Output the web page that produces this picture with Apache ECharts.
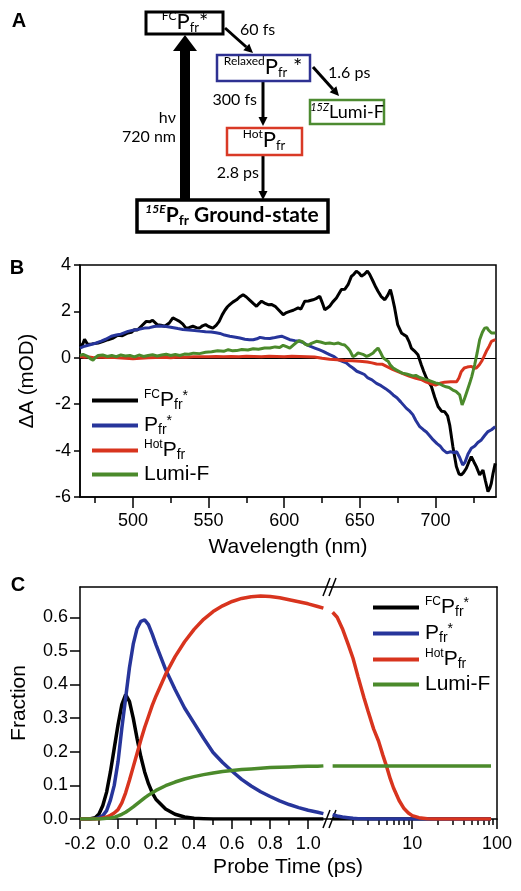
<!DOCTYPE html>
<html><head><meta charset="utf-8">
<script src="https://cdn.jsdelivr.net/npm/echarts@6/dist/echarts.min.js"></script>
<style>html,body{margin:0;padding:0;background:#fff}#c{width:521px;height:891px}</style>
</head><body><div id="c"></div>
<script>
// ---------- Panel B: transient spectra (wavelength nm, ΔA mOD) ----------
const fcSpectrum = [[465,0.47],[467,0.62],[468,0.8],[470,0.58],[473,0.6],[477,0.64],[480,0.7],[483.5,0.78],[487,0.85],[490,0.97],[493,0.95],[496.7,1.07],[499,1.1],[501,1.21],[503,1.2],[505.5,1.36],[508.8,1.57],[511,1.55],[513,1.62],[516,1.43],[518.5,1.4],[521,1.36],[524,1.5],[526.4,1.72],[528.5,1.65],[530.8,1.57],[533,1.45],[535,1.28],[537,1.3],[539.6,1.36],[542,1.3],[544,1.28],[546,1.38],[548,1.43],[550,1.35],[552.8,1.28],[555,1.4],[557,1.57],[559,1.85],[560.8,2.05],[562.5,2.2],[564,2.29],[566,2.4],[568.5,2.5],[570.5,2.62],[572.8,2.72],[575,2.62],[577,2.5],[579.5,2.35],[581.7,2.22],[583.5,2.35],[585,2.44],[587,2.36],[589.4,2.29],[591.5,2.3],[594,2.22],[596.5,2.05],[599.3,1.86],[601.5,1.95],[603.7,2.0],[606,2.05],[609.2,2.15],[611,2.1],[613.6,2.44],[616,2.45],[619,2.5],[621,2.55],[623.5,2.65],[625,2.4],[626.8,2.07],[628.5,2.15],[630,2.22],[632,2.4],[634.5,2.58],[637.8,2.94],[640,2.95],[642.2,3.15],[644.4,3.51],[646,3.6],[647.7,3.73],[649.5,3.65],[651,3.52],[653,3.6],[655,3.74],[656.5,3.6],[658.7,3.3],[660.5,3.05],[662,2.87],[664,2.65],[666.5,2.5],[668.5,2.7],[670.2,2.94],[671.5,2.6],[673,2.15],[675,1.43],[677.5,1.07],[679,1.0],[680.8,0.93],[682.5,0.7],[684,0.42],[686,0.3],[688.4,0.13],[690.6,-0.3],[692,-0.55],[694,-0.87],[697.3,-1.24],[699.5,-1.7],[701.7,-2.1],[704,-2.3],[706,-2.32],[708,-2.5],[709.4,-2.9],[711.5,-3.83],[713.8,-4.69],[715.5,-5.0],[717,-5.05],[718.5,-4.95],[720.4,-4.76],[722,-4.5],[723.7,-4.26],[725.5,-4.5],[727,-4.69],[729.2,-5.05],[731.4,-4.84],[733,-5.3],[734.7,-5.77],[736,-5.6],[736.9,-5.41],[738,-5.0],[739.5,-4.55]];
const pfrSpectrum = [[465,0.42],[468,0.5],[471,0.55],[475.8,0.64],[479,0.72],[482,0.8],[485.7,0.93],[489,0.98],[492,1.02],[496.7,1.14],[500,1.19],[503,1.22],[507.7,1.28],[511,1.3],[514,1.35],[517.6,1.37],[521,1.36],[525,1.32],[529.7,1.26],[533,1.22],[537,1.2],[540.7,1.18],[544,1.15],[548,1.12],[551.7,1.11],[555,1.08],[557.5,1.05],[560.5,0.98],[564,0.93],[567,0.9],[570.7,0.85],[574,0.8],[577,0.78],[579.5,0.78],[582,0.82],[584,0.88],[587,0.84],[590.5,0.83],[593,0.86],[595.5,0.9],[598.3,0.93],[601,0.86],[603.7,0.78],[607,0.74],[610.3,0.71],[612.5,0.66],[614.7,0.57],[617,0.5],[620.2,0.42],[623,0.35],[625.7,0.28],[628,0.2],[630,0.14],[633,0.05],[635.6,-0.08],[638,-0.14],[641,-0.22],[643,-0.33],[645.4,-0.44],[648,-0.58],[651,-0.66],[653,-0.72],[655.3,-0.87],[658,-0.95],[661,-1.1],[664,-1.2],[667,-1.33],[669.5,-1.45],[672,-1.6],[674.5,-1.72],[677,-1.9],[680.8,-2.18],[683,-2.3],[685,-2.45],[687,-2.7],[689.6,-2.97],[692,-3.1],[694,-3.2],[696,-3.35],[698.5,-3.54],[701,-3.7],[703,-3.8],[705,-3.97],[707.5,-4.1],[710,-4.05],[712,-4.08],[714,-4.05],[716,-4.3],[718,-4.62],[719.5,-4.5],[721.5,-4.15],[723.7,-3.9],[726,-3.8],[728,-3.65],[730.3,-3.54],[732.5,-3.35],[734.7,-3.18],[737,-3.1],[739.5,-2.97]];
const hotSpectrum = [[465,0.05],[468,0.02],[471,0.04],[474,0.0],[478,0.03],[482,0.01],[486,0.02],[490,0.0],[495,-0.02],[500,-0.04],[505,-0.02],[510,0.0],[515,0.01],[520,0.02],[525,0.0],[530,0.03],[535,0.02],[540,0.04],[545,0.05],[550,0.04],[555,0.06],[560,0.05],[565,0.06],[570,0.05],[575,0.07],[580,0.06],[585,0.05],[590,0.07],[595,0.06],[600,0.05],[605,0.07],[610,0.06],[615,0.05],[620,0.03],[625,-0.02],[630,-0.06],[635,-0.08],[640,-0.12],[645,-0.13],[650,-0.15],[655,-0.18],[658,-0.22],[661,-0.27],[665,-0.28],[668,-0.38],[672,-0.51],[676,-0.62],[680,-0.72],[683,-0.8],[687,-0.88],[691,-0.95],[694,-1.05],[697,-1.12],[700,-1.18],[703,-1.1],[706,-1.05],[710,-1.03],[714,-1.03],[715.5,-0.87],[717,-0.6],[719,-0.44],[721,-0.4],[723.7,-0.37],[725.5,-0.45],[727,-0.44],[729,-0.3],[730.5,-0.15],[732,0.05],[733.6,0.28],[735.5,0.5],[737,0.71],[739.5,0.78]];
const lumiSpectrum = [[465,0.1],[467,0.15],[470,0.06],[472,-0.05],[473.6,-0.1],[475,0.0],[477,0.1],[480,0.12],[483,0.06],[486,0.1],[489,0.05],[492,0.12],[495,0.08],[498,0.1],[501,0.04],[504,0.12],[507,0.06],[510,0.1],[513,0.13],[516,0.08],[519,0.12],[522,0.15],[525,0.1],[528,0.14],[531,0.1],[534,0.16],[537,0.15],[540,0.2],[544,0.18],[548,0.24],[552,0.26],[556,0.3],[560,0.28],[563,0.35],[566,0.3],[568.5,0.31],[572,0.36],[576,0.34],[579.5,0.39],[583,0.37],[587,0.42],[590.5,0.42],[594,0.47],[597,0.44],[599.3,0.54],[601.5,0.48],[603.7,0.42],[606,0.55],[608,0.66],[610,0.74],[612,0.7],[614,0.58],[615.8,0.54],[618,0.62],[621.3,0.71],[624,0.68],[627,0.62],[630,0.64],[633,0.6],[635.6,0.64],[638,0.58],[640,0.55],[642,0.42],[643.5,0.3],[645.4,0.05],[647,0.1],[648.8,0.21],[650,0.21],[652,0.15],[654.4,0.06],[656,0.1],[658.8,0.21],[660,0.3],[662,0.42],[663.5,0.25],[665.4,0.0],[667,-0.08],[668.7,-0.15],[670,-0.3],[672,-0.44],[674,-0.52],[676.4,-0.6],[678,-0.66],[680.8,-0.7],[683,-0.74],[685,-0.78],[687,-0.76],[689.6,-0.85],[692,-0.9],[694,-0.95],[696,-0.98],[697.3,-1.05],[700,-1.08],[702.6,-1.12],[705,-1.2],[707,-1.25],[709,-1.28],[711.5,-1.39],[713.5,-1.45],[716,-1.6],[717.6,-2.03],[719,-1.8],[720.4,-1.53],[722.6,-1.1],[724,-0.8],[725.9,-0.3],[727.5,0.2],[729.2,0.78],[731,1.1],[732.5,1.28],[734,1.3],[735,1.2],[737,1.07],[739.5,1.07]];
const bMajorTicks = [500, 550, 600, 650, 700];
const bMinorTicks = [475, 525, 575, 625, 675, 725];

// ---------- Panel C: population fractions vs probe time (ps) ----------
const tLinear = [-0.2,-0.15,-0.12,-0.1,-0.08,-0.06,-0.04,-0.02,0,0.02,0.04,0.06,0.08,0.1,0.12,0.14,0.16,0.18,0.2,0.25,0.3,0.35,0.4,0.45,0.5,0.55,0.6,0.65,0.7,0.75,0.8,0.85,0.9,0.95,1.0,1.05,1.08];
const fcLinear = [0,0,0.004,0.015,0.04,0.08,0.14,0.21,0.28,0.34,0.37,0.35,0.3,0.24,0.185,0.14,0.105,0.078,0.058,0.03,0.014,0.006,0.002,0.001,0,0,0,0,0,0,0,0,0,0,0,0,0];
const pfrLinear = [0,0,0.001,0.004,0.01,0.025,0.056,0.1,0.17,0.27,0.36,0.45,0.52,0.566,0.588,0.592,0.578,0.55,0.518,0.445,0.385,0.33,0.285,0.24,0.198,0.168,0.142,0.118,0.098,0.081,0.067,0.054,0.043,0.034,0.026,0.02,0.016];
const hotLinear = [0,0,0,0.001,0.003,0.006,0.011,0.018,0.028,0.048,0.078,0.115,0.155,0.195,0.235,0.272,0.305,0.338,0.366,0.43,0.483,0.527,0.564,0.594,0.617,0.634,0.647,0.656,0.661,0.663,0.662,0.658,0.652,0.646,0.64,0.632,0.627];
const lumiLinear = [0,0,0,0,0.001,0.002,0.003,0.005,0.009,0.014,0.02,0.028,0.036,0.045,0.054,0.063,0.071,0.078,0.085,0.099,0.11,0.119,0.126,0.132,0.137,0.141,0.144,0.147,0.149,0.151,0.153,0.154,0.155,0.156,0.157,0.157,0.158];
const tLog = [1.15,1.3,1.5,1.75,2,2.3,2.7,3,3.5,4,4.5,5,5.5,6,7,8,9,10,12,15,20,30,50,85];
const fcLog = [0,0,0,0,0,0,0,0,0,0,0,0,0,0,0,0,0,0,0,0,0,0,0,0];
const pfrLog = [0.013,0.009,0.006,0.004,0.002,0.001,0.0005,0,0,0,0,0,0,0,0,0,0,0,0,0,0,0,0,0];
const hotLog = [0.615,0.6,0.566,0.52,0.478,0.422,0.36,0.322,0.268,0.232,0.19,0.155,0.12,0.093,0.055,0.031,0.018,0.01,0.004,0.001,0,0,0,0];
const lumiLog = [0.158,0.158,0.158,0.158,0.158,0.158,0.158,0.158,0.158,0.158,0.158,0.158,0.158,0.158,0.158,0.158,0.158,0.158,0.158,0.158,0.158,0.158,0.158,0.158];
const cLinMajor = [-0.2, 0, 0.2, 0.4, 0.6, 0.8, 1.0];
const cLinMinor = [-0.1, 0.1, 0.3, 0.5, 0.7, 0.9];
const cLogMajor = [10, 100];
const cLogMinor = [2,3,4,5,6,7,8,9,20,30,40,50,60,70,80,90];
const cYTicks = [0, 0.1, 0.2, 0.3, 0.4, 0.5, 0.6];

const seriesNames = ['FCPfr*', 'Pfr*', 'HotPfr', 'Lumi-F'];
const legendRich = {
  'FCPfr*': '{s|FC}{b|P}{u|fr}{t|*}',
  'Pfr*': '{b|P}{u|fr}{t|*}',
  'HotPfr': '{s|Hot}{b|P}{u|fr}',
  'Lumi-F': '{b|Lumi-F}'
};
const colors = ['#000000', '#27359b', '#d8341e', '#4b8a2b'];

const FONT = '"Liberation Sans", Arial, sans-serif';
const DFONT = 'Lato, "Open Sans", sans-serif';
const zip = (xs, ys) => xs.map((x, i) => [x, ys[i]]);

const richStyles = {
  b: {fontSize: 21, lineHeight: 23, fontFamily: FONT, color: '#000'},
  s: {fontSize: 12, lineHeight: 10, verticalAlign: 'top', fontFamily: FONT, color: '#000'},
  u: {fontSize: 14, lineHeight: 11, verticalAlign: 'bottom', fontFamily: FONT, color: '#000'},
  t: {fontSize: 14, lineHeight: 12, verticalAlign: 'top', fontFamily: FONT, color: '#000'}
};

// ---------- Panel A diagram helpers ----------
function arrow(x1, y1, x2, y2, lw, hl, hw) {
  const dx = x2 - x1, dy = y2 - y1, L = Math.hypot(dx, dy);
  const ux = dx / L, uy = dy / L, bx = x2 - ux * hl, by = y2 - uy * hl, px = -uy, py = ux;
  return [
    {type: 'line', shape: {x1: x1, y1: y1, x2: bx, y2: by}, style: {stroke: '#000', lineWidth: lw}},
    {type: 'polygon', shape: {points: [[x2, y2], [bx + px * hw / 2, by + py * hw / 2], [bx - px * hw / 2, by - py * hw / 2]]}, style: {fill: '#000'}}
  ];
}
function box(x, y, w, h, color, lw) {
  return {type: 'rect', shape: {x: x, y: y, width: w, height: h}, style: {fill: '#fff', stroke: color, lineWidth: lw}};
}
const dRich = {
  b: {fontSize: 22, lineHeight: 24, fontFamily: DFONT, color: '#000'},
  s: {fontSize: 12, lineHeight: 12, verticalAlign: 'top', fontFamily: DFONT, color: '#000'},
  u: {fontSize: 13, lineHeight: 10, verticalAlign: 'bottom', fontFamily: DFONT, color: '#000'},
  m: {fontSize: 18, lineHeight: 20, fontFamily: DFONT, color: '#000'},
  i: {fontSize: 11, lineHeight: 10, verticalAlign: 'top', fontStyle: 'italic', fontFamily: DFONT, color: '#000'},
  gb: {fontSize: 21, lineHeight: 24, fontWeight: 'bold', fontFamily: DFONT, color: '#000'},
  gs: {fontSize: 12, lineHeight: 12, verticalAlign: 'top', fontStyle: 'italic', fontWeight: 'bold', fontFamily: DFONT, color: '#000'},
  gu: {fontSize: 14, lineHeight: 10, verticalAlign: 'bottom', fontWeight: 'bold', fontFamily: DFONT, color: '#000'}
};
function rtext(x, y, str, align) {
  return {type: 'text', x: x, y: y, style: {text: str, rich: dRich, align: align || 'center', verticalAlign: 'middle', fontFamily: DFONT}};
}
function ptext(x, y, str, align, size) {
  return {type: 'text', x: x, y: y, style: {text: str, align: align || 'left', verticalAlign: 'middle', fontSize: size || 16, fontFamily: DFONT, fill: '#000'}};
}

const graphics = [].concat(
  arrow(185, 201, 185, 35, 10, 16, 24),
  arrow(225, 28, 253, 53, 3, 9, 9),
  arrow(263, 81, 263, 126, 3, 9, 9),
  arrow(313, 67, 339, 96, 3, 9, 9),
  arrow(263, 156, 263, 200, 3, 9, 9),
  [
    box(146, 12, 77, 22, '#000', 3),
    box(217, 55, 93, 26, '#2e3192', 2.5),
    box(310, 100, 74, 24, '#4d8b31', 2.5),
    box(227, 128, 75, 27, '#d93a26', 2.5),
    box(137, 200, 191, 32, '#000', 3.5),
    rtext(185, 22, '{s|FC}{b|P}{u|fr}{b|*}'),
    rtext(263, 67, '{s|Relaxed}{b|P}{u|fr}{b| *}'),
    rtext(347, 112, '{i|15Z}{m|Lumi-F}'),
    rtext(264, 140, '{s|Hot}{b|P}{u|fr}'),
    rtext(232, 215, '{gs|15E}{gb|P}{gu|fr}{gb| Ground-state}'),
    ptext(240, 30, '60 fs'),
    ptext(257, 100, '300 fs', 'right'),
    ptext(328, 73, '1.6 ps'),
    ptext(259, 173, '2.8 ps', 'right'),
    ptext(176, 118, 'hν', 'right'),
    ptext(176, 137, '720 nm', 'right'),
    {type: 'text', x: 19, y: 21, style: {text: 'A', align: 'center', verticalAlign: 'middle', fontSize: 20, fontWeight: 'bold', fontFamily: FONT, fill: '#000'}},
    {type: 'text', x: 17, y: 268, style: {text: 'B', align: 'center', verticalAlign: 'middle', fontSize: 20, fontWeight: 'bold', fontFamily: FONT, fill: '#000'}},
    {type: 'text', x: 18, y: 585, style: {text: 'C', align: 'center', verticalAlign: 'middle', fontSize: 20, fontWeight: 'bold', fontFamily: FONT, fill: '#000'}},
    {type: 'text', x: 288, y: 867, style: {text: 'Probe Time (ps)', align: 'center', verticalAlign: 'middle', fontSize: 21, fontFamily: FONT, fill: '#000'}},
    // axis-break marks
    {type: 'line', shape: {x1: 323, y1: 596, x2: 330, y2: 578}, style: {stroke: '#000', lineWidth: 1.5}},
    {type: 'line', shape: {x1: 329, y1: 596, x2: 336, y2: 578}, style: {stroke: '#000', lineWidth: 1.5}},
    {type: 'line', shape: {x1: 323, y1: 828, x2: 330, y2: 810}, style: {stroke: '#000', lineWidth: 1.5}},
    {type: 'line', shape: {x1: 329, y1: 828, x2: 336, y2: 810}, style: {stroke: '#000', lineWidth: 1.5}}
  ]
);

const axisLineStyle = {show: true, onZero: false, lineStyle: {color: '#000', width: 1.5}};
const noLine = {show: false, onZero: false};
const labelStyle = {color: '#000', fontSize: 18, fontFamily: FONT};

const option = {
  backgroundColor: '#fff',
  animation: false,
  textStyle: {fontFamily: FONT},
  grid: [
    {left: 80, top: 265, width: 416, height: 232, show: true, borderColor: '#000', borderWidth: 1.5, backgroundColor: 'transparent', outerBoundsMode: 'none', containLabel: false},
    {left: 80, top: 587, width: 251, height: 232, outerBoundsMode: 'none', containLabel: false},
    {left: 331, top: 587, width: 166, height: 232, outerBoundsMode: 'none', containLabel: false}
  ],
  xAxis: [
    {gridIndex: 0, type: 'value', min: 465, max: 740, position: 'bottom', axisLine: axisLineStyle,
     axisTick: {show: true, length: 11, customValues: bMajorTicks, lineStyle: {color: '#000', width: 1.5}},
     axisLabel: {customValues: bMajorTicks, margin: 15, ...labelStyle}, splitLine: {show: false},
     name: 'Wavelength (nm)', nameLocation: 'middle', nameGap: 40, nameMoveOverlap: false,
     nameTextStyle: {fontSize: 21, color: '#000', fontFamily: FONT}},
    {gridIndex: 0, type: 'value', min: 465, max: 740, position: 'bottom', axisLine: noLine,
     axisTick: {show: true, length: 6, customValues: bMinorTicks, lineStyle: {color: '#000', width: 1.5}},
     axisLabel: {show: false}, splitLine: {show: false}},
    {gridIndex: 1, type: 'value', min: -0.2, max: 1.12, position: 'bottom', axisLine: axisLineStyle,
     axisTick: {show: true, length: 10, customValues: cLinMajor, lineStyle: {color: '#000', width: 1.5}},
     axisLabel: {customValues: cLinMajor, margin: 16, formatter: v => v.toFixed(1), ...labelStyle}, splitLine: {show: false}},
    {gridIndex: 1, type: 'value', min: -0.2, max: 1.12, position: 'bottom', axisLine: noLine,
     axisTick: {show: true, length: 6, customValues: cLinMinor, lineStyle: {color: '#000', width: 1.5}},
     axisLabel: {show: false}, splitLine: {show: false}},
    {gridIndex: 2, type: 'log', logBase: 10, min: 1.1, max: 100, position: 'bottom', axisLine: axisLineStyle,
     axisTick: {show: true, length: 10, customValues: cLogMajor, lineStyle: {color: '#000', width: 1.5}},
     axisLabel: {customValues: cLogMajor, margin: 16, ...labelStyle}, splitLine: {show: false}, minorTick: {show: false}},
    {gridIndex: 2, type: 'log', logBase: 10, min: 1.1, max: 100, position: 'bottom', axisLine: noLine,
     axisTick: {show: true, length: 6, customValues: cLogMinor, lineStyle: {color: '#000', width: 1.5}},
     axisLabel: {show: false}, splitLine: {show: false}},
    {gridIndex: 1, type: 'value', min: -0.2, max: 1.12, position: 'top', axisLine: axisLineStyle,
     axisTick: {show: false}, axisLabel: {show: false}, splitLine: {show: false}},
    {gridIndex: 2, type: 'log', logBase: 10, min: 1.1, max: 100, position: 'top', axisLine: axisLineStyle,
     axisTick: {show: false}, axisLabel: {show: false}, splitLine: {show: false}}
  ],
  yAxis: [
    {gridIndex: 0, type: 'value', min: -6, max: 4, interval: 2, axisLine: axisLineStyle,
     axisTick: {show: true, length: 6, lineStyle: {color: '#000', width: 1.5}},
     axisLabel: {margin: 9, ...labelStyle}, splitLine: {show: false},
     name: 'ΔA (mOD)', nameLocation: 'middle', nameGap: 42, nameRotate: 90, nameMoveOverlap: false,
     nameTextStyle: {fontSize: 20.5, color: '#000', fontFamily: FONT}},
    {gridIndex: 1, type: 'value', min: 0, max: 0.69, axisLine: axisLineStyle,
     axisTick: {show: true, length: 10, customValues: cYTicks, lineStyle: {color: '#000', width: 1.5}},
     axisLabel: {customValues: cYTicks, margin: 12, formatter: v => v.toFixed(1), ...labelStyle}, splitLine: {show: false},
     name: 'Fraction', nameLocation: 'middle', nameGap: 50, nameRotate: 90, nameMoveOverlap: false,
     nameTextStyle: {fontSize: 21, color: '#000', fontFamily: FONT}},
    {gridIndex: 2, type: 'value', min: 0, max: 0.69, position: 'right', axisLine: axisLineStyle,
     axisTick: {show: false}, axisLabel: {show: false}, splitLine: {show: false}}
  ],
  legend: [
    {left: 87, top: 384, orient: 'vertical', itemWidth: 46, itemHeight: 4, itemGap: 2, icon: 'rect',
     selectedMode: false, data: seriesNames, formatter: n => legendRich[n],
     textStyle: {rich: richStyles, padding: [0, 0, 0, 1]}},
    {left: 368, top: 591, orient: 'vertical', itemWidth: 46, itemHeight: 4, itemGap: 3, icon: 'rect',
     selectedMode: false, data: seriesNames, formatter: n => legendRich[n],
     textStyle: {rich: richStyles, padding: [0, 0, 0, 1]}}
  ],
  graphic: {elements: graphics},
  series: []
};

const bData = [fcSpectrum, pfrSpectrum, hotSpectrum, lumiSpectrum];
const linData = [fcLinear, pfrLinear, hotLinear, lumiLinear];
const logData = [fcLog, pfrLog, hotLog, lumiLog];
seriesNames.forEach((name, i) => {
  const s = {name: name, type: 'line', xAxisIndex: 0, yAxisIndex: 0, data: bData[i], showSymbol: false, symbol: 'none',
    lineStyle: {color: colors[i], width: 3}, itemStyle: {color: colors[i]}, z: 3 + i};
  if (i === 0) {
    s.markLine = {silent: true, symbol: 'none', label: {show: false}, z: 1,
      lineStyle: {color: '#000', width: 1.2, type: 'solid'}, data: [{yAxis: 0}]};
  }
  option.series.push(s);
});
seriesNames.forEach((name, i) => {
  option.series.push({name: name, type: 'line', xAxisIndex: 2, yAxisIndex: 1, data: zip(tLinear, linData[i]),
    showSymbol: false, symbol: 'none', lineStyle: {color: colors[i], width: 3.5}, itemStyle: {color: colors[i]}, z: 3 + i});
  option.series.push({name: name, type: 'line', xAxisIndex: 4, yAxisIndex: 2, data: zip(tLog, logData[i]),
    showSymbol: false, symbol: 'none', lineStyle: {color: colors[i], width: 3.5}, itemStyle: {color: colors[i]}, z: 3 + i});
});

const chart = echarts.init(document.getElementById('c'), null, {renderer: 'canvas'});
chart.setOption(option);
</script></body></html>
